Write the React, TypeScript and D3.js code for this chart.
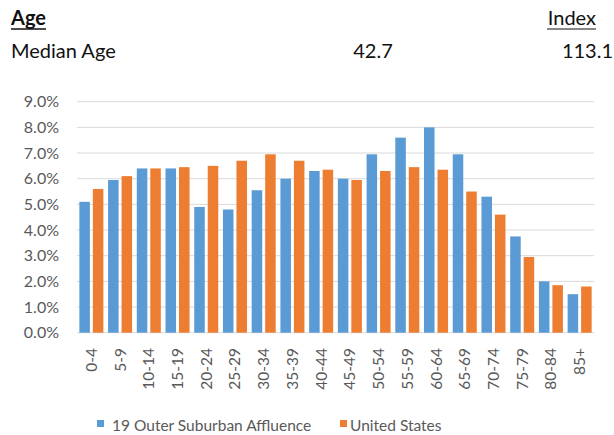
import React from "react";
import * as d3 from "d3";

const categories = ["0-4","5-9","10-14","15-19","20-24","25-29","30-34","35-39","40-44","45-49","50-54","55-59","60-64","65-69","70-74","75-79","80-84","85+"];
const segmentValues = [5.1,5.95,6.4,6.4,4.9,4.8,5.55,6.0,6.3,6.0,6.95,7.6,8.0,6.95,5.3,3.75,2.0,1.5];
const usValues = [5.6,6.1,6.4,6.45,6.5,6.7,6.95,6.7,6.35,5.95,6.3,6.45,6.35,5.5,4.6,2.95,1.85,1.8];
const yTicks = [0,1,2,3,4,5,6,7,8,9];
const seriesNames = ["19 Outer Suburban Affluence", "United States"];
const colors = ["#5B9BD5", "#ED7D31"];

const W = 614, H = 435;
const FONT = "Lato, 'Open Sans', sans-serif";

export default function App() {
  const x0 = d3.scaleBand<string>().domain(categories).range([77, 594]).paddingInner(0.164).paddingOuter(0.082);
  const x1 = d3.scaleBand<string>().domain(["a", "b"]).range([0, x0.bandwidth()]).paddingInner(0.22);
  const y = d3.scaleLinear().domain([0, 9]).range([332.7, 101.7]);
  const series = [segmentValues, usValues];
  const keys = ["a", "b"];

  return (
    <svg width={W} height={H} style={{ position: "absolute", left: 0, top: 0, background: "#fff" }} fontFamily={FONT}>
      {/* header */}
      <text x={11} y={25} fontSize={20} fontWeight="bold" fill="#111">Age</text>
      <line x1={11} x2={46} y1={29} y2={29} stroke="#111" strokeWidth={1.5} />
      <text x={596} y={25} fontSize={20} textAnchor="end" fill="#111">Index</text>
      <line x1={547} x2={596} y1={29} y2={29} stroke="#111" strokeWidth={1.2} />
      <text x={11} y={58} fontSize={20} fill="#111">Median Age</text>
      <text x={373} y={58} fontSize={20} textAnchor="middle" fill="#111">42.7</text>
      <text x={613} y={58} fontSize={20} textAnchor="end" fill="#111">113.1</text>

      {/* gridlines */}
      {yTicks.map(t => (
        <line key={t} x1={77} x2={594} y1={y(t)} y2={y(t)} stroke="#D9D9D9" strokeWidth={1} />
      ))}
      {yTicks.map(t => (
        <text key={"l" + t} x={59} y={y(t)} dy="0.35em" fontSize={16} textAnchor="end" fill="#595959">
          {d3.format(".1f")(t) + "%"}
        </text>
      ))}

      {/* bars */}
      {categories.map((c, i) => (
        <g key={c} transform={`translate(${x0(c)},0)`}>
          {series.map((s, k) => (
            <rect key={k} x={x1(keys[k])} y={y(s[i])} width={x1.bandwidth()} height={y(0) - y(s[i])} fill={colors[k]} />
          ))}
        </g>
      ))}

      {/* x labels */}
      {categories.map(c => {
        const cx = (x0(c) as number) + x0.bandwidth() / 2;
        return (
          <text key={"x" + c} transform={`translate(${cx + 5.5},348) rotate(-90)`} fontSize={15.5} textAnchor="end" fill="#595959">
            {c}
          </text>
        );
      })}

      {/* legend */}
      <rect x={97} y={420} width={7} height={7} fill={colors[0]} />
      <text x={112} y={426} dy="0.35em" fontSize={15.5} fill="#595959">{seriesNames[0]}</text>
      <rect x={340} y={420} width={7} height={7} fill={colors[1]} />
      <text x={350} y={426} dy="0.35em" fontSize={15.5} fill="#595959">{seriesNames[1]}</text>
    </svg>
  );
}
